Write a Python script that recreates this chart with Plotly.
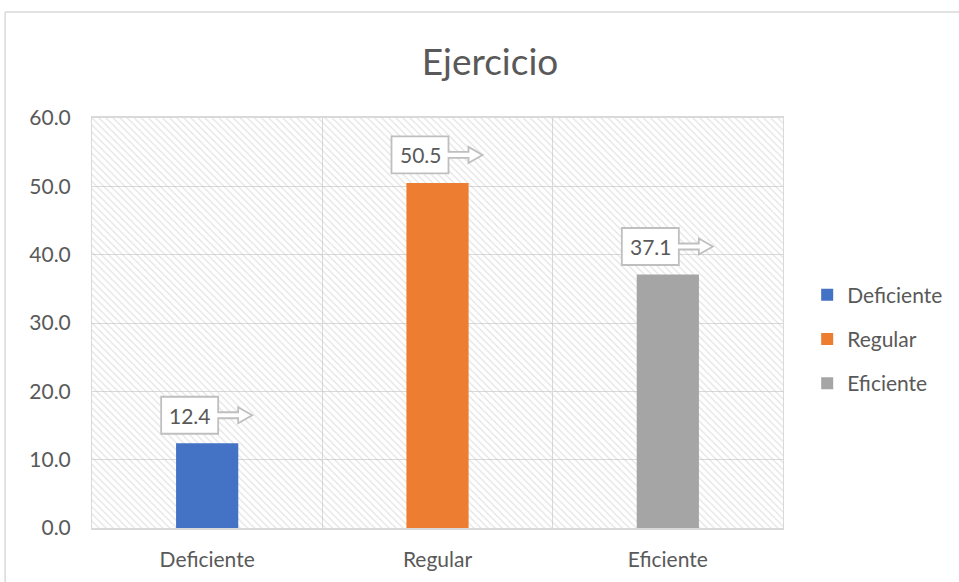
import plotly.graph_objects as go

categories = ["Deficiente", "Regular", "Eficiente"]
values = [12.4, 50.5, 37.1]
colors = ["#4472C4", "#ED7D31", "#A5A5A5"]
y_max = 60
title_text = "Ejercicio"

FONT = "Lato, 'Open Sans', sans-serif"
TXT = "#595959"
GRID = "#D9D9D9"

fig = go.Figure()

# hatched plot-area background (transparent between hatch lines so the grid shows)
fig.add_trace(go.Bar(
    x=categories, y=[y_max] * len(categories), width=1,
    marker=dict(color="rgba(0,0,0,0)", line=dict(width=0),
                pattern=dict(shape="\\", fgcolor="#C4C4C4", bgcolor="rgba(0,0,0,0)",
                             size=5, solidity=0.22)),
    showlegend=False, hoverinfo="skip"))

for c, v, col in zip(categories, values, colors):
    fig.add_trace(go.Bar(
        x=[c], y=[v], name=c, width=0.27, legendgroup=c,
        marker=dict(color=col, line=dict(width=0))))

# callout labels
for c, v in zip(categories, values):
    path = ("M -46,9.5 L 11,9.5 L 11,25 L 31,25 L 31,20 L 45,28 L 31,36 L 31,31 "
            "L 11,31 L 11,46.5 L -46,46.5 Z")
    fig.add_shape(type="path", xref="x", yref="y", xsizemode="pixel", ysizemode="pixel",
                  xanchor=c, yanchor=v, path=path,
                  line=dict(color="#BFBFBF", width=1.8), fillcolor="white", layer="above")
    fig.add_annotation(x=c, y=v, text=f"{v:.1f}", showarrow=False, xshift=-17, yshift=28,
                       font=dict(family=FONT, size=21, color=TXT))

# outer chart border (left and top)
fig.add_shape(type="line", xref="paper", yref="paper", x0=-0.1257, x1=-0.1257, y0=-0.2, y1=1.2585,
              line=dict(color=GRID, width=1.5))
fig.add_shape(type="line", xref="paper", yref="paper", x0=-0.1257, x1=1.4, y0=1.2585, y1=1.2585,
              line=dict(color=GRID, width=1.5))

fig.update_layout(
    width=959, height=582,
    margin=dict(l=92, r=175, t=118, b=54),
    paper_bgcolor="white", plot_bgcolor="white",
    barmode="overlay",
    title=dict(text=title_text, x=0.511, xanchor="center", y=0.893, yanchor="middle",
               font=dict(family=FONT, size=37, color=TXT)),
    font=dict(family=FONT, color=TXT, size=21),
    legend=dict(x=1.0335, y=0.461, xanchor="left", yanchor="middle", tracegroupgap=14,
                traceorder="grouped", font=dict(family=FONT, size=21, color=TXT)),
    xaxis=dict(type="category", tickson="boundaries", showgrid=True, gridcolor=GRID,
               showline=True, linecolor=GRID, linewidth=1.5, mirror=True, ticks="",
               ticklabelstandoff=12,
               tickfont=dict(family=FONT, size=21, color=TXT), range=[-0.5, 2.5]),
    yaxis=dict(range=[0, y_max], dtick=10, tickformat=".1f", showgrid=True, gridcolor=GRID,
               showline=True, linecolor=GRID, mirror=True, zeroline=False, ticks="",
               ticklabelstandoff=16, tickfont=dict(family=FONT, size=21, color=TXT)),
)

fig.write_html("out.html")
